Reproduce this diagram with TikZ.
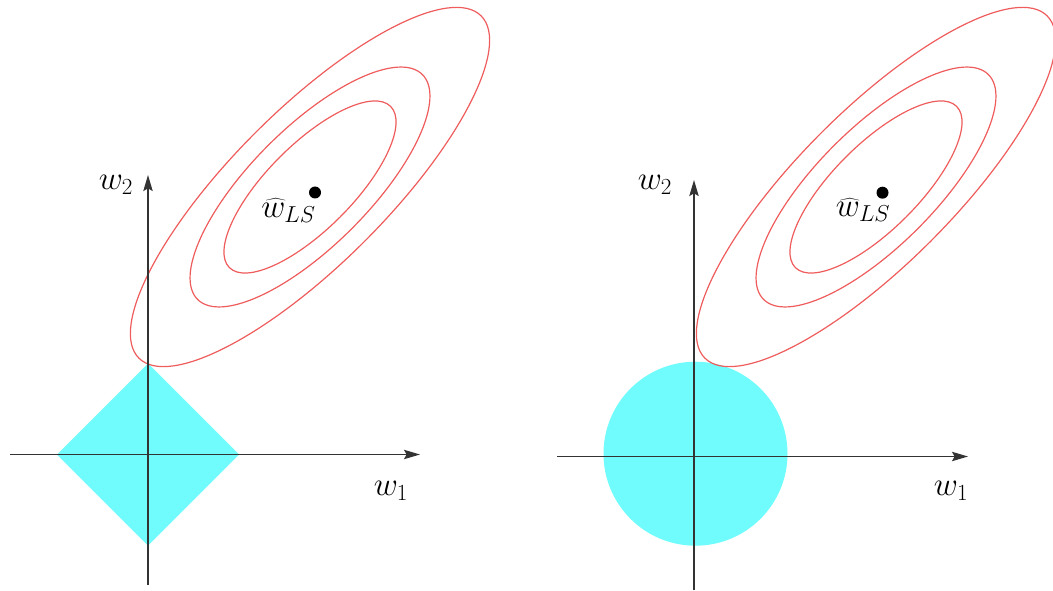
\documentclass[tikz,border=0pt]{standalone}
\usetikzlibrary{arrows.meta}
\definecolor{ballcyan}{RGB}{112,252,252}
\definecolor{contourred}{RGB}{238,92,92}

\begin{document}
\begin{tikzpicture}[x=0.75pt,y=0.75pt,line width=1.2pt,
  >={Stealth[length=12pt,width=7pt,inset=2pt]}]
\tikzset{
  axis/.style={->,draw=black!80},
  ball/.style={fill=ballcyan},
  contour/.style={draw=contourred,line width=0.9pt},
  lbl/.style={inner sep=0pt,font=\fontsize{26}{30}\selectfont},
}
% 像素坐标（y 向上），画布 1053 x 590
\useasboundingbox (0,0) rectangle (1053,590);
% ---------- (a) L1 ----------
\coordinate (o1)  at (148,135.5);
\coordinate (x1a) at (10,135.5);
\coordinate (x1b) at (420,135.5);
\coordinate (y1a) at (148,5);
\coordinate (y1b) at (148,415);
% 菱形约束区域，半径 91
\fill[ball] (148,226.5) -- (239,135.5) -- (148,44.5) -- (57,135.5) -- cycle;
% 等高线（45 度倾斜）
\coordinate (c1) at (310,403);
\foreach \a/\b in {242/77,159/59,114/42.5}
  \draw[contour] (c1) ellipse [x radius=\a,y radius=\b,rotate=45];
\draw[axis] (x1a) -- (x1b);
\draw[axis] (y1a) -- (y1b);
\fill (315,397.5) circle (6);
\node[lbl] (w2a) at (116,405) {$w_2$};
\node[lbl] (w1a) at (391,99) {$w_1$};
\node[lbl] (lsa) at (288.5,379.5) {$\widehat{w}_{LS}$};
% ---------- (b) L2 ----------
\coordinate (o2)  at (694,133.5);
\coordinate (x2a) at (557,133.5);
\coordinate (x2b) at (968,133.5);
\coordinate (y2a) at (694,0);
\coordinate (y2b) at (694,410);
% 圆形约束区域，半径 92
\fill[ball] (695.5,136.3) circle (92);
\coordinate (c2) at (876,403);
\foreach \a/\b in {242/77,159/59,114/42.5}
  \draw[contour] (c2) ellipse [x radius=\a,y radius=\b,rotate=45];
\draw[axis] (x2a) -- (x2b);
\draw[axis] (y2a) -- (y2b);
\fill (882.5,397.3) circle (6);
\node[lbl] (w2b) at (655,405) {$w_2$};
\node[lbl] (w1b) at (951,99) {$w_1$};
\node[lbl] (lsb) at (863,380) {$\widehat{w}_{LS}$};
\end{tikzpicture}
\end{document}
